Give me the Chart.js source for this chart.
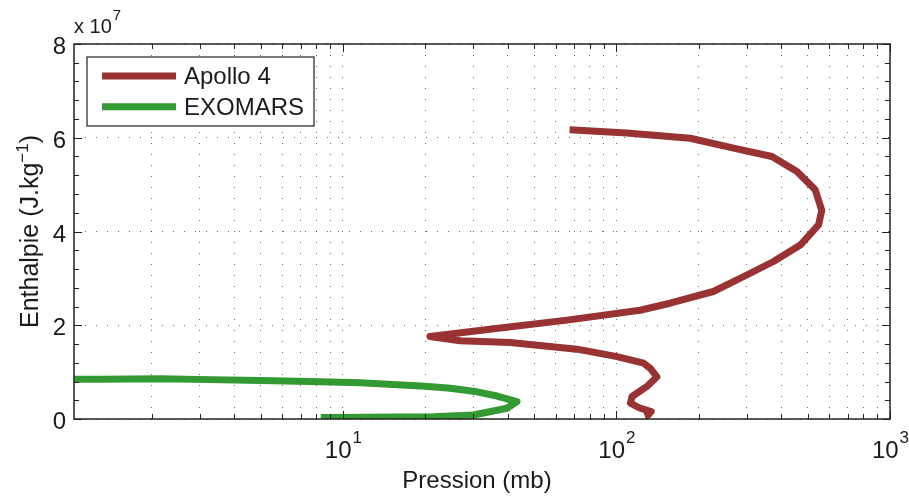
<!DOCTYPE html>
<html>
<head>
<meta charset="utf-8">
<title>Enthalpie / Pression</title>
<script src="https://cdn.jsdelivr.net/npm/chart.js@4.4.1/dist/chart.umd.min.js"></script>
<style>
    html, body { margin: 0; padding: 0; background: #fff; }
    canvas { display: block; }
</style>
</head>
<body>
<canvas id="enthalpyChart" width="909" height="496"></canvas>
<script>
// Trajectories: pressure in mb, enthalpy in units of 1e7 J/kg
const apolloPressure = [67.4, 109, 186, 268, 370, 457, 533, 563, 548, 470, 375, 292, 226, 157, 122, 66, 37.6, 20.8, 26.8, 40.9, 71.7, 100.5, 125.7, 133, 140.6, 129, 114, 112.5, 122, 134, 130.7, 127];
const apolloEnthalpy = [6.17, 6.10, 5.99, 5.78, 5.60, 5.28, 4.89, 4.45, 4.14, 3.71, 3.36, 3.04, 2.72, 2.47, 2.32, 2.11, 1.94, 1.76, 1.67, 1.63, 1.49, 1.33, 1.19, 1.08, 0.90, 0.69, 0.48, 0.34, 0.23, 0.16, 0.09, 0.06];

const exomarsPressure = [1.04, 1.30, 2.15, 3.27, 4.99, 7.59, 11.6, 20.0, 24.7, 30.9, 36.6, 43.3, 39.8, 30.0, 21.4, 12.2, 8.3];
const exomarsEnthalpy = [0.85, 0.85, 0.86, 0.84, 0.82, 0.80, 0.775, 0.70, 0.655, 0.58, 0.49, 0.37, 0.23, 0.085, 0.05, 0.035, 0.03];

// Axis ticks
const xDecades = [1, 2, 3];          // labelled powers of ten
const yTicks = [0, 2, 4, 6, 8];
const yMinorStep = 0.4;
const xMin = 1.04, xMax = 1000;
const yMin = 0, yMax = 8;

const apolloColor = 'rgb(153, 51, 51)';
const exomarsColor = 'rgb(51, 153, 51)';
const labelFont = '"Liberation Sans", Arial, Helvetica, sans-serif';

function toPoints(xs, ys) {
    return xs.map((x, i) => ({ x: x, y: ys[i] }));
}

// 1..9 x 10^k positions for the log grid
function logGridValues() {
    const vals = [];
    for (let k = 0; k < 3; k++) {
        for (let m = 1; m <= 9; m++) {
            const v = m * Math.pow(10, k);
            if (v >= xMin && v <= xMax) vals.push(v);
        }
    }
    vals.push(xMax);
    return vals;
}

function isDecade(v) {
    const l = Math.log10(v);
    return Math.abs(l - Math.round(l)) < 1e-9;
}

// Draws the box, the inward tick marks, tick labels, titles and legend
const axesDecor = {
    id: 'axesDecor',
    afterDraw(chart) {
        const ctx = chart.ctx;
        const area = chart.chartArea;
        const xs = chart.scales.x;
        const ys = chart.scales.y;
        ctx.save();

        // inward tick marks
        ctx.strokeStyle = '#222';
        ctx.lineWidth = 1;
        ctx.beginPath();
        logGridValues().forEach(v => {
            const px = Math.round(xs.getPixelForValue(v)) + 0.5;
            const len = isDecade(v) ? 8 : 5;
            ctx.moveTo(px, area.bottom);
            ctx.lineTo(px, area.bottom - len);
            ctx.moveTo(px, area.top);
            ctx.lineTo(px, area.top + len);
        });
        for (let v = yMin; v <= yMax + 1e-9; v += yMinorStep) {
            const py = Math.round(ys.getPixelForValue(v)) + 0.5;
            const major = Math.abs(v / 2 - Math.round(v / 2)) < 1e-6;
            const len = major ? 8 : 5;
            ctx.moveTo(area.left, py);
            ctx.lineTo(area.left + len, py);
            ctx.moveTo(area.right, py);
            ctx.lineTo(area.right - len, py);
        }
        ctx.stroke();

        // axes box
        ctx.strokeStyle = '#222';
        ctx.lineWidth = 1.5;
        ctx.strokeRect(area.left, area.top, area.right - area.left, area.bottom - area.top);

        ctx.fillStyle = '#1a1a1a';

        // y tick labels
        ctx.font = '24px ' + labelFont;
        ctx.textAlign = 'right';
        ctx.textBaseline = 'alphabetic';
        yTicks.forEach(v => {
            ctx.fillText(String(v), area.left - 8, ys.getPixelForValue(v) + 10);
        });

        // x tick labels as powers of ten
        ctx.textAlign = 'left';
        xDecades.forEach(e => {
            const px = xs.getPixelForValue(Math.pow(10, e));
            ctx.font = '24px ' + labelFont;
            const wBase = ctx.measureText('10').width;
            ctx.font = '17px ' + labelFont;
            const wExp = ctx.measureText(String(e)).width;
            const x0 = px - (wBase + wExp) / 2;
            ctx.font = '24px ' + labelFont;
            ctx.fillText('10', x0, 458);
            ctx.font = '17px ' + labelFont;
            ctx.fillText(String(e), x0 + wBase + 1, 443);
        });

        // scale factor above the y axis
        ctx.font = '20px ' + labelFont;
        ctx.fillText('x 10', area.left, 33);
        const wx = ctx.measureText('x 10').width;
        ctx.font = '15px ' + labelFont;
        ctx.fillText('7', area.left + wx + 1, 20);

        // x axis title
        ctx.font = '24px ' + labelFont;
        ctx.textAlign = 'center';
        ctx.fillText('Pression (mb)', (area.left + area.right) / 2 - 5, 488);

        // y axis title with superscript
        ctx.save();
        ctx.translate(38, (area.top + area.bottom) / 2);
        ctx.rotate(-Math.PI / 2);
        ctx.textAlign = 'left';
        const partA = 'Enthalpie (J.kg';
        const partSup = '\u22121';
        const partB = ')';
        ctx.font = '25px ' + labelFont;
        const wA = ctx.measureText(partA).width;
        const wB = ctx.measureText(partB).width;
        ctx.font = '17px ' + labelFont;
        const wS = ctx.measureText(partSup).width;
        let tx = -(wA + wS + wB) / 2;
        ctx.font = '25px ' + labelFont;
        ctx.fillText(partA, tx, 0);
        tx += wA;
        ctx.font = '17px ' + labelFont;
        ctx.fillText(partSup, tx, -10);
        tx += wS;
        ctx.font = '25px ' + labelFont;
        ctx.fillText(partB, tx, 0);
        ctx.restore();

        // legend box
        const lx = 87, ly = 57, lw = 227, lh = 69;
        ctx.fillStyle = '#fff';
        ctx.fillRect(lx, ly, lw, lh);
        ctx.strokeStyle = '#222';
        ctx.lineWidth = 1.2;
        ctx.strokeRect(lx, ly, lw, lh);
        ctx.font = '24px ' + labelFont;
        ctx.textAlign = 'left';
        chart.data.datasets.forEach((ds, i) => {
            const rowY = 76 + i * 30.7;
            ctx.strokeStyle = ds.borderColor;
            ctx.lineWidth = ds.borderWidth;
            ctx.beginPath();
            ctx.moveTo(102, rowY);
            ctx.lineTo(176, rowY);
            ctx.stroke();
            ctx.fillStyle = '#1a1a1a';
            ctx.fillText(ds.label, 184, rowY + 8);
        });

        ctx.restore();
    }
};

const ctx = document.getElementById('enthalpyChart');
const enthalpyChart = new Chart(ctx, {
    type: 'scatter',
    data: {
        datasets: [{
            label: 'Apollo 4',
            data: toPoints(apolloPressure, apolloEnthalpy),
            showLine: true,
            borderColor: apolloColor,
            backgroundColor: apolloColor,
            borderWidth: 7,
            borderJoinStyle: 'round',
            borderCapStyle: 'butt',
            pointRadius: 0,
            tension: 0
        }, {
            label: 'EXOMARS',
            data: toPoints(exomarsPressure, exomarsEnthalpy),
            showLine: true,
            borderColor: exomarsColor,
            backgroundColor: exomarsColor,
            borderWidth: 7,
            borderJoinStyle: 'round',
            borderCapStyle: 'butt',
            pointRadius: 0,
            tension: 0
        }]
    },
    options: {
        responsive: false,
        animation: false,
        devicePixelRatio: 1,
        layout: {
            padding: { left: 74, right: 19, top: 44, bottom: 77 }
        },
        plugins: {
            legend: { display: false },
            tooltip: { enabled: false }
        },
        scales: {
            x: {
                type: 'logarithmic',
                min: xMin,
                max: xMax,
                afterBuildTicks: scale => {
                    scale.ticks = logGridValues().map(v => ({ value: v }));
                },
                ticks: { display: false },
                grid: {
                    color: 'rgba(0, 0, 0, 0.6)',
                    lineWidth: 1,
                    drawTicks: false
                },
                border: { display: false, dash: [1, 10] }
            },
            y: {
                type: 'linear',
                min: yMin,
                max: yMax,
                afterBuildTicks: scale => {
                    scale.ticks = yTicks.map(v => ({ value: v }));
                },
                ticks: { display: false },
                grid: {
                    color: 'rgba(0, 0, 0, 0.6)',
                    lineWidth: 1,
                    drawTicks: false
                },
                border: { display: false, dash: [1, 10] }
            }
        }
    },
    plugins: [axesDecor]
});
</script>
</body>
</html>
